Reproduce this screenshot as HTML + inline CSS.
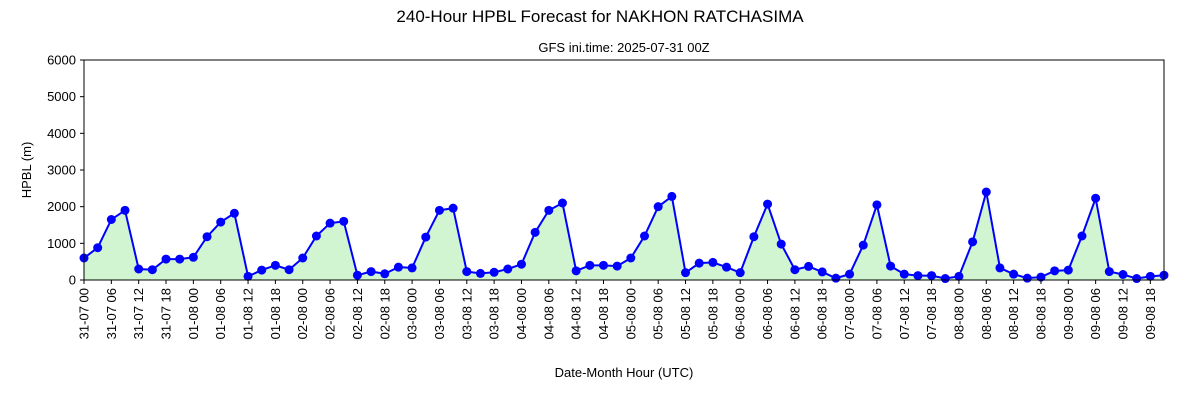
<!DOCTYPE html>
<html><head><meta charset="utf-8"><style>
html,body{margin:0;padding:0;background:#fff;}
svg{display:block;font-family:"Liberation Sans","DejaVu Sans",sans-serif;}
</style></head><body>
<svg id="chart" width="1200" height="400" viewBox="0 0 1200 400">
<text x="600" y="22" text-anchor="middle" font-size="17">240-Hour HPBL Forecast for NAKHON RATCHASIMA</text>
<text x="624" y="52" text-anchor="middle" font-size="13">GFS ini.time: 2025-07-31 00Z</text>
<text transform="translate(31,170) rotate(-90)" text-anchor="middle" font-size="13">HPBL (m)</text>
<text x="624" y="377" text-anchor="middle" font-size="13">Date-Month Hour (UTC)</text>
<g id="plot"></g>
</svg>
<script>
const values = [600,880,1650,1900,300,280,570,570,
620,1180,1580,1820,100,270,400,280,
600,1200,1550,1600,130,230,170,350,
330,1170,1900,1960,230,180,210,300,
430,1300,1900,2100,250,400,400,380,
600,1200,2000,2280,200,460,480,350,
200,1180,2070,980,280,370,220,50,
160,950,2050,380,160,120,120,40,
100,1040,2400,330,160,50,80,250,
270,1200,2230,230,150,40,100,130];
const yTicks = [0,1000,2000,3000,4000,5000,6000];
const days = ["31-07","01-08","02-08","03-08","04-08","05-08","06-08","07-08","08-08","09-08"];
const hours = ["00","06","12","18"];
const stepHours = 3;

const L=84,R=1164,T=60,B=280;
const n=values.length;
const xMaxH=(n-1)*stepHours;
const xs=h=>L+(R-L)*h/xMaxH;
const ys=v=>B-(B-T)*v/6000;
const NS="http://www.w3.org/2000/svg";
const g=document.getElementById('plot');
function mk(tag,attrs){const e=document.createElementNS(NS,tag);for(const k in attrs)e.setAttribute(k,attrs[k]);g.appendChild(e);return e;}

let pts=values.map((v,i)=>[xs(i*stepHours),ys(v)]);
const area=mk('polygon',{points:[[xs(0),B],...pts,[xs(xMaxH),B]].map(p=>p.join(',')).join(' '),fill:'#d0f5d0'});


const line=mk('polyline',{points:pts.map(p=>p.join(',')).join(' '),fill:'none',stroke:'#0000ff','stroke-width':2});


pts.forEach((p,i)=>{
  const c=mk('circle',{cx:p[0],cy:p[1],r:4.5,fill:'#0000ff'});
  
  
});
const frame=mk('rect',{x:L,y:T,width:R-L,height:B-T,fill:'none',stroke:'#000','stroke-width':1});


yTicks.forEach(v=>{
  const y=ys(v);
  mk('line',{x1:L-4,x2:L,y1:y,y2:y,stroke:'#000'});
  const t=mk('text',{x:L-8,y:y+4.5,'text-anchor':'end','font-size':13});
  t.textContent=v;
  
  
});
let k=0;
days.forEach(d=>hours.forEach(hh=>{
  const h=k*6;k++;
  const x=xs(h);
  mk('line',{x1:x,x2:x,y1:B,y2:B+4,stroke:'#000'});
  const t=mk('text',{transform:`translate(${x+4.5},${B+8}) rotate(-90)`,'text-anchor':'end','font-size':13});
  t.textContent=d+' '+hh;
  
  
}));
</script>
</body></html>
